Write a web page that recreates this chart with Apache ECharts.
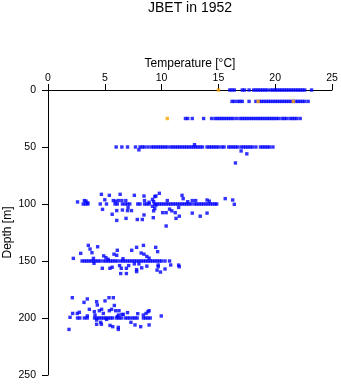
<!DOCTYPE html>
<html>
<head>
<meta charset="utf-8">
<script src="https://cdn.jsdelivr.net/npm/echarts@6/dist/echarts.min.js"></script>
<style>
  html, body { margin: 0; padding: 0; background: #ffffff; }
  #chart { width: 341px; height: 384px; }
</style>
</head>
<body>
<div id="chart"></div>
<script>
// Temperature readings (°C) taken along the standard sampling depths
const depthLevels = [0, 10, 25, 50, 100, 150, 200];

const row0Temps = [16.0, 16.2, 16.4, 17.1, 17.3, 17.7, 18.1, 18.3, 18.5, 18.7, 18.9, 19.1, 19.3,
  19.6, 19.8, 20.0, 20.2, 20.4, 20.6, 20.8, 21.0, 21.2, 21.4, 21.6, 21.8, 22.0, 22.2, 22.4, 22.6, 23.2];
const row10Temps = [16.2, 16.4, 16.7, 16.9, 17.1, 17.7, 18.3, 18.6, 18.8, 19.0, 19.2, 19.4, 19.6,
  19.8, 20.0, 20.2, 20.4, 20.6, 20.8, 21.0, 21.2, 21.4, 21.6, 21.8, 22.0, 22.2, 22.4, 22.6, 22.9];
const row25Temps = [12.1, 12.3, 12.7, 13.7, 14.4, 14.7, 14.9, 15.1, 15.3, 15.5, 15.7, 15.9, 16.1,
  16.3, 16.6, 16.9, 17.1, 17.3, 17.5, 17.7, 17.9, 18.1, 18.3, 18.5, 18.7, 18.9, 19.1, 19.3, 19.5,
  19.7, 19.9, 20.1, 20.3, 20.6, 20.8, 21.0, 21.3, 21.5, 21.7, 21.9, 22.2];
const row50Temps = [6.0, 6.5, 7.0, 7.7, 8.1, 8.3, 8.5, 8.8, 9.1, 9.3, 9.5, 9.7, 9.9, 10.1, 10.3,
  10.5, 10.8, 11.0, 11.2, 11.4, 11.6, 11.8, 12.0, 12.2, 12.4, 12.6, 12.8, 13.0, 13.2, 13.4, 13.6,
  14.0, 14.2, 14.4, 14.6, 14.8, 15.0, 15.3, 15.5, 15.9, 16.1, 16.3, 16.5, 16.7, 17.0, 17.2, 17.4,
  17.6, 17.8, 18.0, 18.3, 18.7, 18.9, 19.1, 19.3, 19.5, 19.8];
const row100Temps = [3.1, 3.3, 3.5, 4.6, 5.15, 5.9, 6.1, 6.55, 6.8, 7.0, 7.2, 7.9, 8.1, 8.5, 8.7,
  8.9, 9.4, 9.6, 9.8, 10.0, 10.2, 10.4, 10.6, 10.8, 11.0, 11.2, 11.4, 11.6, 11.8, 12.0, 12.2, 12.4,
  12.6, 12.9, 13.1, 13.3, 13.5, 13.7, 13.9, 14.1, 14.3, 14.5, 14.7, 14.85];
const row150Temps = [3.0, 3.2, 3.4, 3.6, 3.8, 4.0, 4.2, 4.4, 4.6, 4.9, 5.1, 5.3, 5.5, 5.7, 5.9,
  6.1, 6.4, 6.6, 6.8, 7.0, 7.2, 7.4, 7.6, 7.8, 8.0, 8.2, 8.4, 8.6, 8.8, 9.0, 9.2, 9.4, 9.6, 9.8,
  10.0, 10.3, 10.7];
const row200Temps = [2.6, 2.8, 3.2, 3.45, 4.1, 4.3, 4.5, 4.7, 4.9, 5.1, 5.3, 5.5, 5.7, 6.05, 6.25,
  6.45, 6.8, 7.0, 7.2, 7.45, 7.65, 7.85, 8.4, 8.6, 8.8, 9.0];

// Readings that sit off the standard depths: [temperature, depth]
const scatter50 = [[12.9, 48], [8.0, 52.5], [17.0, 53.5], [17.5, 56], [16.5, 64]];
const scatter100 = [
  [2.6, 98.2], [3.2, 97], [3.35, 97.5], [3.5, 99], [4.7, 91.5], [4.8, 104.7], [5.0, 96.3],
  [5.4, 92.4], [5.75, 97], [5.95, 97.5], [6.2, 97], [5.65, 109], [6.05, 114.4], [6.05, 105.8],
  [6.35, 91.5], [6.5, 97], [6.55, 105.3], [6.85, 97], [7.05, 103], [7.0, 105.8], [7.35, 105.8],
  [6.87, 112.6], [7.6, 92.4], [7.86, 113.6], [8.3, 113.6], [8.45, 109.6], [8.45, 93], [8.5, 97],
  [8.9, 98.5], [9.2, 96], [9.3, 98], [9.2, 102], [9.4, 104], [9.3, 106], [9.5, 101], [9.27, 112],
  [9.4, 93.5], [9.5, 93], [9.8, 90.6], [10.1, 107.6], [10.4, 107.6], [10.4, 119.3], [10.5, 97],
  [10.7, 104.5], [10.9, 106], [11.2, 107.6], [11.27, 112.6], [11.56, 110.7], [11.5, 103],
  [11.8, 92.4], [11.9, 95.3], [12.3, 98], [12.7, 97], [13.0, 97], [12.7, 108], [13.4, 110.7],
  [14.0, 96.5], [14.2, 97.5], [14.0, 108], [15.6, 95.3], [16.26, 96.5], [16.4, 100.3]
];
const scatter150 = [
  [2.23, 147.7], [2.88, 143.3], [3.55, 136.3], [3.7, 139.5], [3.87, 142.7], [4.0, 147.7],
  [4.05, 152], [4.37, 137.5], [4.78, 156.4], [4.9, 145.5], [5.1, 147], [5.3, 148.5], [5.45, 156.4],
  [5.65, 155.5], [5.81, 144], [6.05, 145], [6.1, 140.6], [6.3, 154], [6.45, 156.4], [6.4, 161],
  [6.9, 161], [6.6, 148], [6.9, 156.4], [7.1, 154], [7.37, 140.6], [7.8, 138], [7.8, 159.3],
  [7.6, 152.5], [8.0, 152.5], [7.8, 157.6], [8.2, 143], [8.45, 144], [8.25, 156], [8.4, 136.3],
  [8.7, 146], [8.9, 147.5], [8.7, 154.5], [9.48, 138], [9.65, 141.8], [9.7, 153.5], [9.7, 155],
  [9.6, 158], [9.9, 159.7], [10.3, 157], [10.8, 153.5], [11.5, 153.6], [11.55, 155]
];
const scatter200 = [
  [1.85, 210], [1.94, 199.4], [2.14, 182.2], [2.17, 196], [2.58, 196], [2.76, 195], [3.17, 186.3],
  [3.46, 183.3], [3.46, 198.2], [3.64, 192.4], [4.08, 194.4], [4.14, 197.4], [4.28, 185.7],
  [4.34, 188.6], [4.28, 201.8], [4.28, 205.5], [4.52, 193.6], [4.64, 203.8], [4.7, 205.5],
  [4.72, 192.4], [4.87, 196], [5.02, 185], [5.16, 201.2], [5.37, 182.2], [5.75, 182.2],
  [5.4, 193.6], [5.6, 192.4], [5.46, 206.5], [5.7, 207.6], [5.84, 189], [5.96, 193.6],
  [6.1, 198.8], [6.2, 197.4], [6.19, 208.2], [6.19, 210], [6.25, 193.6], [6.5, 197], [6.63, 196.8],
  [7.0, 195.3], [7.3, 203.8], [7.66, 206.1], [7.9, 196.2], [8.16, 207.6], [8.39, 197.4],
  [8.63, 196], [8.8, 194.5], [8.9, 193.6], [8.9, 206.1], [9.97, 198.2]
];

// Highlighted readings drawn in orange
const orangePoints = [[15.0, 0], [18.5, 10], [21.6, 10], [10.5, 25]];

const rowTemps = [row0Temps, row10Temps, row25Temps, row50Temps, row100Temps, row150Temps, row200Temps];
const bluePoints = [];
rowTemps.forEach((temps, i) => {
  temps.forEach(t => bluePoints.push([t, depthLevels[i]]));
});
[scatter50, scatter100, scatter150, scatter200].forEach(list => {
  list.forEach(p => bluePoints.push(p));
});

const FONT = '"Liberation Sans", Arial, Helvetica, sans-serif';

const chart = echarts.init(document.getElementById('chart'), null, { renderer: 'canvas' });
chart.setOption({
  animation: false,
  backgroundColor: '#ffffff',
  textStyle: { fontFamily: FONT },
  title: {
    text: 'JBET in 1952',
    left: 190,
    textAlign: 'center',
    top: 1,
    padding: 0,
    textStyle: { fontSize: 14, fontWeight: 'normal', color: '#000', fontFamily: FONT }
  },
  grid: { left: 48, top: 90, right: 9, bottom: 9, containLabel: false, outerBoundsMode: 'none' },
  xAxis: {
    type: 'value',
    position: 'top',
    min: 0, max: 25, interval: 5,
    name: 'Temperature [°C]',
    nameLocation: 'middle',
    nameGap: 20,
    nameMoveOverlap: false,
    nameTextStyle: { fontSize: 12, color: '#000', fontFamily: FONT },
    axisLine: { show: true, onZero: false, lineStyle: { color: '#000', width: 1 } },
    axisTick: { show: true, inside: false, length: 6, lineStyle: { color: '#000' } },
    axisLabel: { fontSize: 10.5, color: '#000', margin: 6, fontFamily: FONT },
    splitLine: { show: false }
  },
  yAxis: {
    type: 'value',
    inverse: true,
    min: 0, max: 250, interval: 50,
    name: 'Depth [m]',
    nameLocation: 'middle',
    nameRotate: 90,
    nameGap: 34,
    nameMoveOverlap: false,
    nameTextStyle: { fontSize: 12, color: '#000', fontFamily: FONT },
    axisLine: { show: true, onZero: false, lineStyle: { color: '#000', width: 1 } },
    axisTick: { show: true, inside: false, length: 6, lineStyle: { color: '#000' } },
    axisLabel: { fontSize: 10.5, color: '#000', margin: 12, fontFamily: FONT },
    splitLine: { show: false }
  },
  series: [
    {
      name: 'readings',
      type: 'scatter',
      data: bluePoints,
      symbol: 'rect',
      symbolSize: 3.4,
      itemStyle: { color: '#0000ff' },
      emphasis: { disabled: true }
    },
    {
      name: 'highlighted',
      type: 'scatter',
      data: orangePoints,
      symbol: 'rect',
      symbolSize: 3.4,
      itemStyle: { color: '#ffa500' },
      emphasis: { disabled: true }
    }
  ]
});
</script>
</body>
</html>
